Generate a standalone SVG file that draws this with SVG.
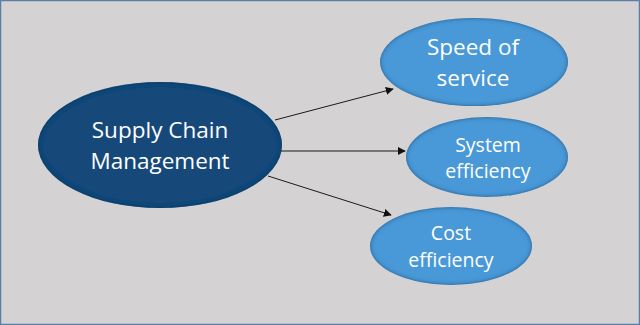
<svg xmlns="http://www.w3.org/2000/svg" width="640" height="325" viewBox="0 0 640 325">
<defs>
<style>
.lbl{font-family:"Open Sans","Liberation Sans",sans-serif;fill:#ffffff;text-anchor:middle}
.big{font-size:22.5px}
.sm{font-size:19.5px}
.conn{stroke:#1a1a1a;stroke-width:1;fill:none;marker-end:url(#ah)}
.dark{fill:#154a7a}
.light{fill:#4a98d8}
</style>
<marker id="ah" viewBox="0 0 10 10" refX="9" refY="5" markerWidth="8" markerHeight="8" markerUnits="userSpaceOnUse" orient="auto">
<path d="M0,0 L10,5 L0,10 z" fill="#111"/>
</marker>
<filter id="inner" x="-10%" y="-10%" width="120%" height="120%">
<feComponentTransfer in="SourceAlpha" result="inv"><feFuncA type="table" tableValues="1 0"/></feComponentTransfer>
<feGaussianBlur in="inv" stdDeviation="2" result="b"/>
<feFlood flood-color="#0a2a4a" flood-opacity="0.85"/>
<feComposite in2="b" operator="in" result="sh"/>
<feComposite in="sh" in2="SourceAlpha" operator="in" result="shin"/>
<feMerge><feMergeNode in="SourceGraphic"/><feMergeNode in="shin"/></feMerge>
</filter>
</defs>
<rect x="0.5" y="0.5" width="639" height="324" fill="#d4d2d3" stroke="#5b7fa6" stroke-width="1.5"/>
<g id="connectors">
<line class="conn" x1="275" y1="120" x2="393" y2="89"/>
<line class="conn" x1="272" y1="151" x2="405" y2="151"/>
<line class="conn" x1="268" y1="176" x2="391" y2="215"/>
</g>
<g id="scm">
<ellipse class="dark" cx="160" cy="145" rx="122" ry="63" filter="url(#inner)"/>
<text class="lbl big" x="160" y="138">Supply Chain</text>
<text class="lbl big" x="160" y="169">Management</text>
</g>
<g id="speed">
<ellipse class="light" cx="474" cy="62" rx="94" ry="44" filter="url(#inner)"/>
<text class="lbl big" x="473" y="55">Speed of</text>
<text class="lbl big" x="473" y="86">service</text>
</g>
<g id="system">
<ellipse class="light" cx="487" cy="157" rx="81" ry="40" filter="url(#inner)"/>
<text class="lbl sm" x="488" y="152">System</text>
<text class="lbl sm" x="488" y="178">efficiency</text>
</g>
<g id="cost">
<ellipse class="light" cx="451" cy="246" rx="81" ry="39" filter="url(#inner)"/>
<text class="lbl sm" x="451" y="240">Cost</text>
<text class="lbl sm" x="451" y="267">efficiency</text>
</g>
</svg>
